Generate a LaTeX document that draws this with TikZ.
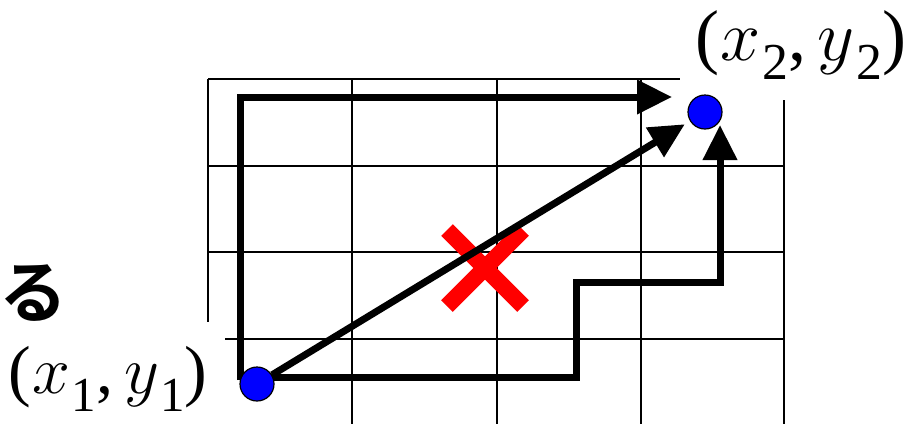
\RequirePackage{fix-cm}
\documentclass[tikz,border=0pt]{standalone}
\usepackage{fontspec}
\setmainfont{Liberation Serif}
\newfontfamily\jpfont{Noto Sans CJK JP}[BoldFont={Noto Sans CJK JP Bold}]
\usetikzlibrary{arrows.meta, calc, backgrounds}
\definecolor{azulpunto}{HTML}{0000FF}
\definecolor{rojocruz}{HTML}{FF0000}
\newcommand{\pcoord}[1]{(\kern0.02em$x$\kern0.02em\raisebox{-0.27em}{\fontsize{0.72em}{1em}\selectfont #1},\kern0.16em$y$\kern0.02em\raisebox{-0.27em}{\fontsize{0.72em}{1em}\selectfont #1})}
\tikzset{
  every picture/.style={x=0.5pt, y=-0.5pt},
  rejilla/.style={line width=1pt, black},
  punto/.style={circle, draw=black, fill=azulpunto, line width=0.6pt, minimum size=17pt, inner sep=0pt},
  ruta/.style={line width=3.5pt, black, -{Triangle[length=17.5pt, width=16.5pt]}},
  etiq/.style={font=\fontsize{34}{38}\selectfont, inner sep=0pt},
  cruz/.style={line width=8.25pt, rojocruz},
}
\begin{document}
\begin{tikzpicture}
  \useasboundingbox (0,0) rectangle (913,424);
  \node[punto] (p1) at (257,384) {};
  \node[punto] (p2) at (705,112) {};
  \node[etiq, anchor=base east] (l1) at (208,393) {\pcoord{1}};
  \node[etiq, anchor=base west, font=\fontsize{36}{40}\selectfont] (l2) at (695,60) {\pcoord{2}};
  \node[font=\jpfont\bfseries\fontsize{34}{36}\selectfont, inner sep=0pt] (ru) at (33,293) {る};
  \coordinate (xc) at (485,268);
  \begin{scope}[on background layer]
    \foreach \x/\a/\b in {208/79/322, 352/79/424, 497/79/424, 641/79/424, 784/100/424}
      \draw[rejilla] (\x,\a) -- (\x,\b);
    \foreach \y/\a/\b in {79/208/680, 166/208/784, 252/208/784, 339/225/784}
      \draw[rejilla] (\a,\y) -- (\b,\y);
    \draw[cruz] ($(xc)+(-38,-38)$) -- ($(xc)+(38,38)$);
    \draw[cruz] ($(xc)+(-38,38)$) -- ($(xc)+(38,-38)$);
    \draw[ruta] ($(p1)+(-17,-4)$) |- ($(p2)+(-33,-15)$);
    \draw[ruta] ($(p1)+(12,-7)$) -| (576,282) -| ($(p2)+(15,13)$);
    \draw[ruta, shorten >=3pt] (p1) -- (p2);
  \end{scope}
\end{tikzpicture}
\end{document}
